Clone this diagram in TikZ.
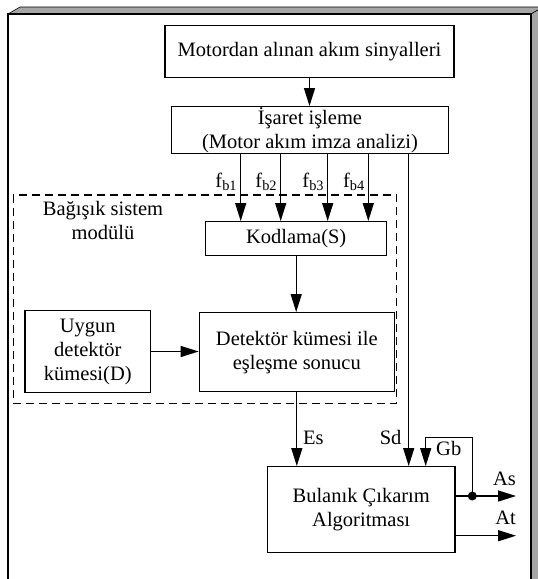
\documentclass[tikz,border=0pt]{standalone}
\usepackage{fontspec}
\setmainfont{Liberation Serif}
\usetikzlibrary{arrows.meta}

\begin{document}
\begin{tikzpicture}[x=1pt,y=-1pt,
  blok/.style={draw, line width=1.3pt, inner sep=0pt, align=center,
    font=\fontsize{20.5}{24}\selectfont},
  ok/.style={line width=1.3pt, -{Triangle[length=18pt,width=11pt]}},
  etiket/.style={inner sep=1pt, font=\fontsize{20.5}{24}\selectfont}]
  \useasboundingbox (0,0) rectangle (538,579);
  \clip (0,0) rectangle (538,579);
  % cerceve
  \filldraw[fill=gray!70, line width=0.6pt] (8,14) -- (20,7) -- (543,7) -- (531,14) -- cycle;
  \filldraw[fill=gray!70, line width=0.6pt] (531,14) -- (543,7) -- (543,600) -- (531,600) -- cycle;
  \fill[white] (8,14) rectangle (531,600);
  \draw[line width=2pt] (8,600) -- (8,14) -- (531,14) -- (531,600);

  \node[blok, minimum width=289pt, minimum height=52pt] (motor) at (309.5,51.7) {Motordan alınan akım sinyalleri};
  \node[blok, minimum width=276.6pt, minimum height=46.6pt] (isaret) at (310,130) {İşaret işleme\\(Motor akım imza analizi)};
  \node[blok, minimum width=181pt, minimum height=34pt] (kodlama) at (296.2,238.7) {Kodlama(S)};
  \node[blok, minimum width=195pt, minimum height=79pt] (detektor) at (296.8,352.2) {Detektör kümesi ile\\eşleşme sonucu};
  \node[blok, minimum width=125.7pt, minimum height=81.6pt] (uygun) at (87.8,351.5) {Uygun\\detektör\\kümesi(D)};
  \node[blok, minimum width=187.7pt, minimum height=86pt] (bulanik) at (361.2,509.7) {Bulanık Çıkarım\\Algoritması};

  % bagisik sistem modulu
  \draw[line width=1.3pt, dash pattern=on 8pt off 5pt] (13.3,195) rectangle (396.7,403.3);
  \node[etiket, align=center] (modul) at (103,220) {Bağışık sistem\\modülü};

  \draw[ok] (motor.south) -- (motor.south |- isaret.north);
  \foreach \x/\i in {240.7/1,280.7/2,327.7/3,368.3/4}{
    \draw[ok] (isaret.south -| \x,0) -- (kodlama.north -| \x,0);
    \node[etiket, anchor=base east] (f\i) at (\x-2.4,187) {f\textsubscript{b\i}};
  }
  \draw[ok] (kodlama.south) -- (kodlama.south |- detektor.north);
  \draw[ok] (uygun.east) -- (uygun.east -| detektor.west);

  \draw[ok] (detektor.south) -- (detektor.south |- bulanik.north);
  \node[etiket, anchor=base west] (es) at (302,444) {Es};
  \draw[ok] (isaret.south -| 408.7,0) -- (bulanik.north -| 408.7,0);
  \node[etiket, anchor=base east] (sd) at (402.7,444) {Sd};

  % cikislar
  \coordinate (dugum) at (472.3,496);
  \coordinate (as) at (516,496);
  \coordinate (at) at (516,535.7);
  \coordinate (gb) at (425.7,437.7);
  \draw[line width=1.3pt] (bulanik.east |- dugum) -- (dugum);
  \draw[ok] (dugum) -- (as);
  \draw[ok] (bulanik.east |- at) -- (at);
  \draw[ok] (dugum) |- (gb) -- (gb |- bulanik.north);
  \fill (dugum) circle (4.5pt);
  \node[etiket, anchor=base west] (gbl) at (435,455) {Gb};
  \node[etiket, anchor=base east] (asl) at (517,485) {As};
  \node[etiket, anchor=base east] (atl) at (517,524) {At};
\end{tikzpicture}
\end{document}
